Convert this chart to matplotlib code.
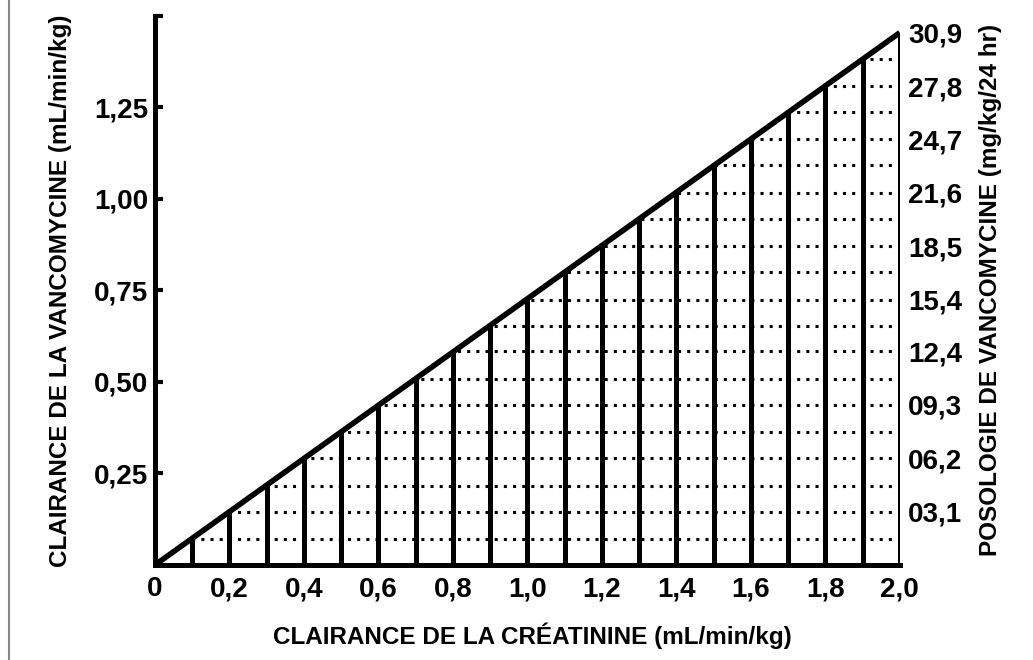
import matplotlib.pyplot as plt
from matplotlib.patches import Polygon
from matplotlib.lines import Line2D

crcl = [0.1, 0.2, 0.3, 0.4, 0.5, 0.6, 0.7, 0.8, 0.9, 1.0,
        1.1, 1.2, 1.3, 1.4, 1.5, 1.6, 1.7, 1.8, 1.9, 2.0]
vanco_cl = [0.073, 0.145, 0.218, 0.291, 0.363, 0.436, 0.509, 0.581, 0.654, 0.727,
            0.800, 0.872, 0.945, 1.018, 1.090, 1.163, 1.236, 1.308, 1.381, 1.454]
line_x = [0.0, 2.0]
line_y = [0.0, 1.454]

x_ticks = [0, 0.2, 0.4, 0.6, 0.8, 1.0, 1.2, 1.4, 1.6, 1.8, 2.0]
x_labels = ['0', '0,2', '0,4', '0,6', '0,8', '1,0', '1,2', '1,4', '1,6', '1,8', '2,0']
left_ticks = [0.25, 0.50, 0.75, 1.00, 1.25, 1.5]
left_labels = ['0,25', '0,50', '0,75', '1,00', '1,25', '']

# posologie (mg/kg/24 hr)
dose_ticks = [3.1, 6.2, 9.3, 12.4, 15.4, 18.5, 21.6, 24.7, 27.8, 30.9]
dose_labels = ['03,1', '06,2', '09,3', '12,4', '15,4', '18,5', '21,6', '24,7', '27,8', '30,9']
dot_levels = [1.5, 3.1, 4.6, 6.2, 7.7, 9.3, 10.8, 12.4, 13.9, 15.4,
              17.0, 18.5, 20.1, 21.6, 23.2, 24.7, 26.3, 27.8, 29.4]
dose_max = 30.9

plt.rcParams['font.family'] = ['Liberation Sans', 'DejaVu Sans']
plt.rcParams['font.weight'] = 'bold'
plt.rcParams['axes.labelweight'] = 'bold'
plt.rcParams['font.size'] = 20

fig = plt.figure(figsize=(10.33, 6.6), dpi=100)
ax = fig.add_axes([0.150, 0.144, 0.721, 0.832])
ax.set_xlim(0, 2.0)
ax.set_ylim(0, 1.5)

# barres verticales
ax.vlines(crcl, 0, vanco_cl, color='black', linewidth=3.6)
# droite
ax.plot(line_x, line_y, color='black', linewidth=4, solid_capstyle='butt')

for s in ['top', 'right']:
    ax.spines[s].set_visible(False)
for s in ['left', 'bottom']:
    ax.spines[s].set_linewidth(3.6)

ax.set_xticks(x_ticks)
ax.set_xticklabels(x_labels)
ax.set_yticks(left_ticks)
ax.set_yticklabels(left_labels)
ax.tick_params(axis='x', length=0, pad=8)
ax.tick_params(axis='y', direction='in', length=6, width=3, pad=5)

ax.set_xlabel('CLAIRANCE DE LA CRÉATININE (mL/min/kg)', fontsize=17.5)
ax.xaxis.set_label_coords(0.507, -0.104)
ax.set_ylabel('CLAIRANCE DE LA VANCOMYCINE (mL/min/kg)', fontsize=17.5)
ax.yaxis.set_label_coords(-0.111, 0.5)

# axe de droite : posologie
ax2 = ax.twinx()
ax2.set_ylim(0, 1.5 * dose_max / line_y[-1])
for s in ['top', 'right', 'left', 'bottom']:
    ax2.spines[s].set_visible(False)
ax2.set_yticks(dose_ticks)
ax2.set_yticklabels(dose_labels)
ax2.tick_params(axis='y', length=0, pad=6)
ax2.set_ylabel('POSOLOGIE DE VANCOMYCINE (mg/kg/24 hr)', rotation=90, fontsize=17.5)
ax2.yaxis.set_label_coords(1.107, 0.5)

# lignes pointillées limitées au triangle
tri = Polygon([(0, 0), (2.0, dose_max), (2.0, 0)], closed=True,
              transform=ax2.transData, facecolor='none', edgecolor='none')
ax2.add_patch(tri)
dots = ax2.hlines(dot_levels, 0, 2.0, color='black', linewidth=2.2,
                  linestyles=[(0, (1, 2))])
dots.set_clip_path(tri)

# bord de page à gauche
fig.add_artist(Line2D([0.009, 0.009], [0, 1], color='#888888', linewidth=1.5,
                      transform=fig.transFigure))

fig.savefig('out.png', dpi=100)
